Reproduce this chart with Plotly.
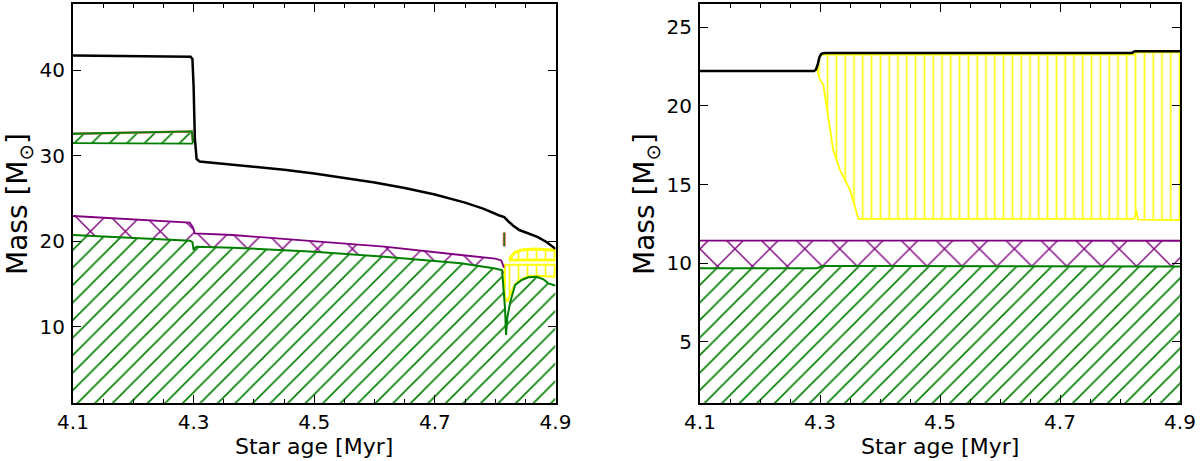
import plotly.graph_objects as go

# ---------------- LEFT PANEL DATA ----------------
# total mass (black)
L_tot_age = [4.10, 4.20, 4.295, 4.298, 4.300, 4.302, 4.305, 4.31, 4.35, 4.40, 4.45, 4.50, 4.55,
             4.60, 4.65, 4.70, 4.75, 4.78, 4.807, 4.815, 4.822, 4.83, 4.84, 4.87, 4.885, 4.90]
L_tot_mass = [41.7, 41.65, 41.55, 41.3, 38.0, 32.0, 29.6, 29.3, 29.05, 28.75, 28.35, 27.9, 27.4,
              26.85, 26.2, 25.45, 24.5, 23.8, 23.0, 22.8, 22.3, 21.8, 21.3, 20.5, 19.9, 19.1]

# convective shell (green, early)
L_shell_age = [4.10, 4.15, 4.20, 4.25, 4.297, 4.299]
L_shell_low = [31.45, 31.45, 31.44, 31.42, 31.40, 31.40]
L_shell_up = [32.55, 32.62, 32.7, 32.78, 32.82, 31.45]

# convective core boundary (green)
L_core_age = [4.10, 4.20, 4.294, 4.298, 4.300, 4.302, 4.305, 4.365, 4.50, 4.616, 4.743, 4.80,
              4.8115, 4.8164, 4.818, 4.820, 4.825, 4.833, 4.844, 4.855, 4.869, 4.880, 4.888, 4.897, 4.90]
L_core_mass = [20.72, 20.4, 20.06, 19.9, 18.96, 19.2, 19.35, 19.24, 18.77, 18.18, 17.41, 16.8,
               16.6, 12.0, 9.05, 11.0, 12.9, 14.87, 15.46, 15.77, 15.84, 15.54, 15.07, 14.87, 14.8]

# overshoot / mixing layer (purple)
L_ov_age = [4.10, 4.20, 4.2935, 4.299, 4.302, 4.365, 4.50, 4.616, 4.743, 4.800, 4.810, 4.8145]
L_ov_mass = [22.94, 22.55, 22.16, 21.6, 20.92, 20.72, 19.94, 19.35, 18.38, 17.95, 17.75, 16.9]

# semiconvection (yellow), two bands near the end
L_y1_age = [4.816, 4.820, 4.825, 4.833, 4.844, 4.855, 4.869, 4.880, 4.890, 4.900]
L_y1_low = [13.6, 12.9, 13.8, 15.0, 15.6, 15.9, 15.95, 15.9, 15.85, 15.85]
L_y1_up = [17.25, 17.25, 17.25, 17.25, 17.25, 17.25, 17.25, 17.25, 17.25, 17.25]

L_y2_age = [4.823, 4.828, 4.833, 4.844, 4.866, 4.888, 4.900]
L_y2_low = [17.8, 17.8, 17.8, 17.8, 17.8, 17.8, 17.8]
L_y2_up = [17.85, 18.3, 18.7, 18.96, 19.08, 19.0, 18.95]

# small mark
L_mark_age = [4.815, 4.815]
L_mark_mass = [19.4, 21.0]

# ---------------- RIGHT PANEL DATA ----------------
R_tot_age = [4.10, 4.20, 4.290, 4.293, 4.296, 4.299, 4.302, 4.305, 4.31, 4.50, 4.70, 4.820,
             4.823, 4.826, 4.90]
R_tot_mass = [22.22, 22.22, 22.22, 22.3, 22.6, 23.1, 23.3, 23.35, 23.37, 23.37, 23.37, 23.37,
              23.45, 23.48, 23.48]

R_y_age = [4.2955, 4.300, 4.3055, 4.311, 4.3167, 4.322, 4.333, 4.350, 4.364, 4.50, 4.70, 4.824,
           4.827, 4.830, 4.90]
R_y_low = [22.2, 21.67, 21.36, 19.98, 18.7, 17.2, 15.95, 14.67, 12.82, 12.82, 12.82, 12.82,
           13.37, 12.78, 12.75]
R_y_up = [22.2, 23.2, 23.26, 23.26, 23.26, 23.26, 23.26, 23.26, 23.26, 23.26, 23.26, 23.26,
          23.38, 23.4, 23.4]

R_core_age = [4.10, 4.20, 4.295, 4.300, 4.305, 4.40, 4.50, 4.60, 4.70, 4.80, 4.90]
R_core_mass = [9.68, 9.68, 9.68, 9.76, 9.82, 9.82, 9.81, 9.80, 9.79, 9.79, 9.80]

R_ov_age = [4.10, 4.30, 4.50, 4.70, 4.90]
R_ov_mass = [11.44, 11.44, 11.44, 11.43, 11.43]

X_TICKS = [4.1, 4.3, 4.5, 4.7, 4.9]
L_Y_TICKS = [10, 20, 30, 40]
R_Y_TICKS = [5, 10, 15, 20, 25]

GREEN = "#008000"
PURPLE = "#800080"
YELLOW = "#ffff00"
CLEAR = "rgba(0,0,0,0)"
FONT = "DejaVu Sans"

fig = go.Figure()


def band(xs, low, up, color, shape, size, solidity, xa, ya):
    px = list(xs) + list(xs)[::-1]
    py = list(low) + list(up)[::-1]
    fig.add_trace(go.Scatter(
        x=px, y=py, xaxis=xa, yaxis=ya, mode="lines", fill="toself",
        line=dict(width=0, color=CLEAR), fillcolor=CLEAR,
        fillpattern=dict(shape=shape, fgcolor=color, bgcolor=CLEAR, size=size,
                         solidity=solidity, fillmode="replace"),
        hoverinfo="skip", showlegend=False))


def line(xs, ys, color, width, xa, ya):
    fig.add_trace(go.Scatter(x=xs, y=ys, xaxis=xa, yaxis=ya, mode="lines",
                             line=dict(color=color, width=width), showlegend=False,
                             hoverinfo="skip"))


def interp(xs, ys, x):
    for i in range(len(xs) - 1):
        if xs[i] <= x <= xs[i + 1]:
            t = (x - xs[i]) / (xs[i + 1] - xs[i]) if xs[i + 1] != xs[i] else 0
            return ys[i] + t * (ys[i + 1] - ys[i])
    return ys[-1]


# ---- left panel ----
zeros_L = [0.0] * len(L_core_age)
band(L_core_age, zeros_L, L_core_mass, GREEN, "/", 12.4, 0.13, "x", "y")
ov_low = [interp(L_core_age, L_core_mass, a) for a in L_ov_age]
band(L_ov_age, ov_low, L_ov_mass, PURPLE, "x", 24.7, 0.11, "x", "y")
band(L_shell_age, L_shell_low, L_shell_up, GREEN, "/", 12.4, 0.13, "x", "y")
band(L_y1_age, L_y1_low, L_y1_up, YELLOW, "|", 9, 0.18, "x", "y")
band(L_y2_age, L_y2_low, L_y2_up, YELLOW, "|", 9, 0.18, "x", "y")
# outlines
line(L_y1_age + L_y1_age[::-1] + [L_y1_age[0]], L_y1_low + L_y1_up[::-1] + [L_y1_low[0]], YELLOW, 2, "x", "y")
line(L_y2_age + L_y2_age[::-1] + [L_y2_age[0]], L_y2_low + L_y2_up[::-1] + [L_y2_low[0]], YELLOW, 3, "x", "y")
line(L_shell_age, L_shell_up, "#e08080", 2.5, "x", "y")
line(L_shell_age, L_shell_up, GREEN, 1.8, "x", "y")
line(L_shell_age, L_shell_low, GREEN, 1.8, "x", "y")
line(L_ov_age, L_ov_mass, PURPLE, 1.8, "x", "y")
line(L_core_age, L_core_mass, GREEN, 2, "x", "y")
line(L_mark_age, L_mark_mass, "#e06060", 3, "x", "y")
line(L_mark_age, L_mark_mass, GREEN, 1.2, "x", "y")
line(L_tot_age, L_tot_mass, "black", 2.5, "x", "y")

# ---- right panel ----
zeros_R = [0.0] * len(R_core_age)
band(R_core_age, zeros_R, R_core_mass, GREEN, "/", 12.4, 0.13, "x2", "y2")
rov_low = [interp(R_core_age, R_core_mass, a) for a in R_ov_age]
band(R_ov_age, rov_low, R_ov_mass, PURPLE, "x", 24.7, 0.11, "x2", "y2")
band(R_y_age, R_y_low, R_y_up, YELLOW, "|", 8.8, 0.18, "x2", "y2")
line(R_y_age + R_y_age[::-1], R_y_low + R_y_up[::-1], YELLOW, 1.8, "x2", "y2")
line(R_ov_age, R_ov_mass, PURPLE, 1.8, "x2", "y2")
line(R_core_age, R_core_mass, GREEN, 2, "x2", "y2")
line(R_tot_age, R_tot_mass, "black", 2.5, "x2", "y2")

ydom = [1 - 403.3 / 461, 1 - 4.3 / 461]
xax = dict(range=[4.1, 4.9], tickvals=X_TICKS, ticktext=[f"{v:.1f}" for v in X_TICKS],
           ticks="inside", ticklen=8, tickwidth=1.3, tickcolor="black",
           minor=dict(ticks="inside", ticklen=4, tickwidth=1, tickcolor="black", dtick=0.05, tick0=4.1),
           showline=True, linecolor="black", linewidth=2, mirror="ticks",
           showgrid=False, zeroline=False, ticklabelstandoff=0, automargin=False,
           tickfont=dict(family=FONT, size=20, color="black"))
yax = dict(ticks="inside", ticklen=8, tickwidth=1.3, tickcolor="black",
           showline=True, linecolor="black", linewidth=2, mirror="ticks",
           showgrid=False, zeroline=False, ticklabelstandoff=2, automargin=False,
           tickfont=dict(family=FONT, size=20, color="black"), domain=ydom)

fig.update_layout(
    width=1200, height=461, margin=dict(l=0, r=0, t=0, b=0, autoexpand=False),
    paper_bgcolor="white", plot_bgcolor="white", showlegend=False,
    xaxis=dict(xax, domain=[73 / 1200, 555.5 / 1200], anchor="y"),
    xaxis2=dict(xax, domain=[700 / 1200, 1180 / 1200], anchor="y2"),
    yaxis=dict(yax, range=[1.05, 47.68], tickvals=L_Y_TICKS, anchor="x"),
    yaxis2=dict(yax, range=[1.1, 26.46], tickvals=R_Y_TICKS, anchor="x2"),
)

ann = [
    dict(text="Mass [M<sub>⊙</sub>]", x=19 / 1200, y=1 - 204 / 461, textangle=-90,
         font=dict(family=FONT, size=28, color="black")),
    dict(text="Mass [M<sub>⊙</sub>]", x=646 / 1200, y=1 - 204 / 461, textangle=-90,
         font=dict(family=FONT, size=28, color="black")),
    dict(text="Star age [Myr]", x=314 / 1200, y=1 - 446 / 461,
         font=dict(family=FONT, size=22, color="black")),
    dict(text="Star age [Myr]", x=940 / 1200, y=1 - 446 / 461,
         font=dict(family=FONT, size=22, color="black")),
]
for a in ann:
    fig.add_annotation(xref="paper", yref="paper", showarrow=False,
                       xanchor="center", yanchor="middle", **a)

fig.write_html("out.html", config={"displayModeBar": False},
               post_script="document.body.style.margin='0px';")
